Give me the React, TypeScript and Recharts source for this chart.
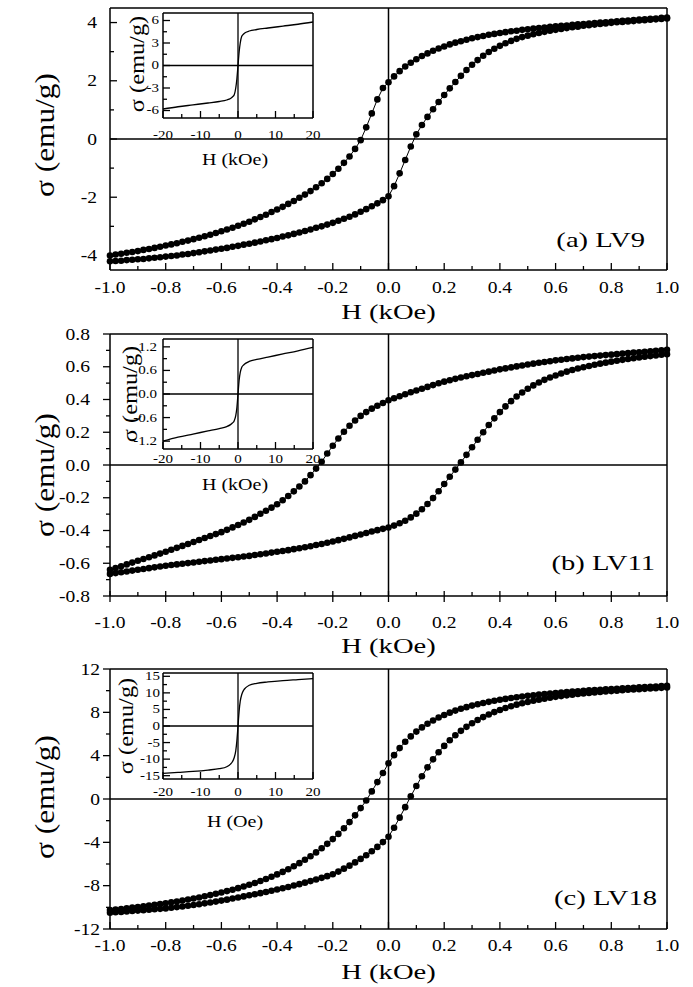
import React from 'react';
import { ComposedChart, LineChart, Line, XAxis, YAxis, ReferenceLine } from 'recharts';

const FONT = '"Liberation Serif", "Times New Roman", serif';

// field values (kOe) shared by the three main loops
const H = [
  -1.0, -0.98, -0.96, -0.94, -0.92, -0.9, -0.88, -0.86, -0.84, -0.82,
  -0.8, -0.78, -0.76, -0.74, -0.72, -0.7, -0.68, -0.66, -0.64, -0.62,
  -0.6, -0.58, -0.56, -0.54, -0.52, -0.5, -0.48, -0.46, -0.44, -0.42,
  -0.4, -0.38, -0.36, -0.34, -0.32, -0.3, -0.28, -0.26, -0.24, -0.22,
  -0.2, -0.18, -0.16, -0.14, -0.12, -0.1, -0.08, -0.06, -0.04, -0.02,
  0.0, 0.02, 0.04, 0.06, 0.08, 0.1, 0.12, 0.14, 0.16, 0.18,
  0.2, 0.22, 0.24, 0.26, 0.28, 0.3, 0.32, 0.34, 0.36, 0.38,
  0.4, 0.42, 0.44, 0.46, 0.48, 0.5, 0.52, 0.54, 0.56, 0.58,
  0.6, 0.62, 0.64, 0.66, 0.68, 0.7, 0.72, 0.74, 0.76, 0.78,
  0.8, 0.82, 0.84, 0.86, 0.88, 0.9, 0.92, 0.94, 0.96, 0.98,
  1.0,
];

// (a) LV9
const upA = [
  -4.0, -3.97, -3.94, -3.91, -3.88, -3.85, -3.81, -3.78, -3.74, -3.7,
  -3.66, -3.62, -3.58, -3.53, -3.49, -3.44, -3.39, -3.34, -3.29, -3.23,
  -3.17, -3.11, -3.05, -2.98, -2.91, -2.84, -2.76, -2.68, -2.6, -2.51,
  -2.42, -2.33, -2.23, -2.13, -2.02, -1.91, -1.79, -1.66, -1.52, -1.37,
  -1.2, -1.02, -0.82, -0.6, -0.34, -0.04, 0.4, 0.88, 1.36, 1.75,
  1.95, 2.15, 2.33, 2.49, 2.62, 2.74, 2.85, 2.94, 3.03, 3.11,
  3.18, 3.25, 3.31, 3.36, 3.41, 3.46, 3.5, 3.54, 3.58, 3.61,
  3.64, 3.67, 3.7, 3.72, 3.75, 3.77, 3.79, 3.81, 3.83, 3.85,
  3.87, 3.89, 3.9, 3.92, 3.94, 3.95, 3.97, 3.98, 4.0, 4.01,
  4.03, 4.04, 4.06, 4.07, 4.09, 4.1, 4.11, 4.13, 4.14, 4.16,
  4.17,
];
const lowA = [
  -4.2, -4.19, -4.18, -4.16, -4.15, -4.13, -4.12, -4.1, -4.08, -4.06,
  -4.04, -4.02, -4.0, -3.97, -3.95, -3.92, -3.89, -3.86, -3.83, -3.8,
  -3.77, -3.74, -3.7, -3.67, -3.63, -3.6, -3.56, -3.52, -3.48, -3.44,
  -3.4, -3.35, -3.31, -3.26, -3.21, -3.16, -3.11, -3.05, -3.0, -2.94,
  -2.88, -2.81, -2.74, -2.67, -2.59, -2.5, -2.41, -2.31, -2.21, -2.1,
  -1.97, -1.62, -1.18, -0.72, -0.26, 0.16, 0.48, 0.76, 1.02, 1.27,
  1.51, 1.74, 1.96, 2.17, 2.37, 2.55, 2.71, 2.86, 2.99, 3.1,
  3.2, 3.29, 3.37, 3.44, 3.5, 3.55, 3.6, 3.64, 3.68, 3.72,
  3.75, 3.78, 3.81, 3.84, 3.86, 3.89, 3.91, 3.93, 3.95, 3.97,
  3.99, 4.01, 4.02, 4.04, 4.05, 4.07, 4.08, 4.1, 4.11, 4.12,
  4.14,
];

// (b) LV11
const upB = [
  -0.64, -0.629, -0.618, -0.607, -0.596, -0.585, -0.574, -0.563, -0.552, -0.541,
  -0.53, -0.518, -0.506, -0.494, -0.482, -0.47, -0.458, -0.446, -0.434, -0.422,
  -0.41, -0.396, -0.381, -0.366, -0.351, -0.335, -0.317, -0.298, -0.279, -0.26,
  -0.24, -0.215, -0.189, -0.161, -0.131, -0.1, -0.062, -0.022, 0.02, 0.07,
  0.118, 0.162, 0.203, 0.24, 0.272, 0.3, 0.323, 0.344, 0.362, 0.379,
  0.395, 0.408, 0.42, 0.432, 0.444, 0.455, 0.466, 0.477, 0.488, 0.499,
  0.509, 0.518, 0.526, 0.534, 0.542, 0.549, 0.556, 0.563, 0.57, 0.577,
  0.584, 0.59, 0.596, 0.602, 0.608, 0.614, 0.619, 0.624, 0.629, 0.634,
  0.639, 0.643, 0.647, 0.651, 0.655, 0.659, 0.662, 0.665, 0.668, 0.671,
  0.674, 0.677, 0.68, 0.683, 0.686, 0.689, 0.692, 0.695, 0.698, 0.701,
  0.704,
];
const lowB = [
  -0.665, -0.66, -0.655, -0.65, -0.645, -0.64, -0.635, -0.63, -0.625, -0.62,
  -0.615, -0.611, -0.607, -0.603, -0.599, -0.595, -0.591, -0.587, -0.583, -0.579,
  -0.575, -0.571, -0.567, -0.563, -0.559, -0.555, -0.55, -0.545, -0.54, -0.535,
  -0.53, -0.525, -0.52, -0.514, -0.508, -0.502, -0.496, -0.489, -0.482, -0.475,
  -0.467, -0.459, -0.451, -0.442, -0.433, -0.424, -0.415, -0.406, -0.398, -0.39,
  -0.382, -0.37, -0.356, -0.34, -0.32, -0.297, -0.27, -0.238, -0.202, -0.16,
  -0.116, -0.072, -0.028, 0.016, 0.062, 0.108, 0.154, 0.2, 0.244, 0.285,
  0.323, 0.358, 0.39, 0.418, 0.443, 0.466, 0.486, 0.504, 0.52, 0.534,
  0.547, 0.559, 0.57, 0.58, 0.589, 0.597, 0.605, 0.612, 0.619, 0.625,
  0.631, 0.637, 0.642, 0.647, 0.652, 0.657, 0.661, 0.665, 0.669, 0.673,
  0.677,
];

// (c) LV18
const upC = [
  -10.25, -10.2, -10.15, -10.09, -10.03, -9.97, -9.91, -9.84, -9.77, -9.7,
  -9.62, -9.54, -9.46, -9.37, -9.28, -9.19, -9.09, -8.98, -8.87, -8.75,
  -8.63, -8.5, -8.37, -8.23, -8.08, -7.92, -7.75, -7.57, -7.38, -7.18,
  -6.96, -6.73, -6.48, -6.21, -5.92, -5.61, -5.28, -4.93, -4.55, -4.14,
  -3.7, -3.22, -2.7, -2.13, -1.51, -0.84, -0.14, 0.7, 1.56, 2.4,
  3.3, 4.05, 4.7, 5.28, 5.78, 6.22, 6.61, 6.95, 7.25, 7.52,
  7.76, 7.97, 8.16, 8.33, 8.48, 8.62, 8.75, 8.86, 8.97, 9.07,
  9.16, 9.24, 9.32, 9.39, 9.46, 9.52, 9.58, 9.64, 9.69, 9.74,
  9.79, 9.83, 9.87, 9.91, 9.95, 9.99, 10.03, 10.06, 10.09, 10.12,
  10.15, 10.18, 10.21, 10.24, 10.27, 10.3, 10.33, 10.36, 10.39, 10.42,
  10.45,
];
const lowC = [
  -10.5, -10.46, -10.42, -10.38, -10.34, -10.3, -10.26, -10.22, -10.18, -10.14,
  -10.1, -10.04, -9.98, -9.92, -9.85, -9.78, -9.71, -9.63, -9.55, -9.47,
  -9.38, -9.29, -9.19, -9.09, -8.99, -8.89, -8.79, -8.69, -8.58, -8.47,
  -8.36, -8.24, -8.12, -7.99, -7.86, -7.72, -7.58, -7.43, -7.28, -7.12,
  -6.95, -6.7, -6.43, -6.15, -5.85, -5.53, -5.19, -4.82, -4.42, -3.98,
  -3.48, -2.65, -1.72, -0.75, 0.25, 1.2, 2.1, 2.92, 3.66, 4.32,
  4.9, 5.42, 5.88, 6.29, 6.66, 6.99, 7.29, 7.56, 7.8, 8.02,
  8.22, 8.4, 8.56, 8.71, 8.84, 8.96, 9.07, 9.17, 9.26, 9.35,
  9.43, 9.5, 9.57, 9.63, 9.69, 9.74, 9.79, 9.84, 9.88, 9.92,
  9.96, 10.0, 10.04, 10.08, 10.11, 10.14, 10.17, 10.2, 10.23, 10.26,
  10.29,
];

// insets: full field sweep, -20..20 kOe
const insetH = [-20, -16, -12, -8, -5, -3, -2, -1.5, -1, -0.6, -0.3, 0, 0.3, 0.6, 1, 1.5, 2, 3, 5, 8, 12, 16, 20];
const insetA = [-5.8, -5.5, -5.25, -5.0, -4.8, -4.6, -4.4, -4.2, -3.9, -3.0, -1.8, 0, 1.8, 3.0, 3.9, 4.2, 4.4, 4.6, 4.8, 5.0, 5.25, 5.5, 5.8];
const insetB = [-1.2, -1.1, -1.02, -0.94, -0.88, -0.83, -0.78, -0.74, -0.68, -0.55, -0.35, 0, 0.35, 0.55, 0.68, 0.74, 0.78, 0.83, 0.88, 0.94, 1.02, 1.1, 1.19];
const insetC = [-14.3, -14.0, -13.7, -13.3, -12.9, -12.3, -11.5, -10.8, -9.5, -7.5, -4.5, 0, 4.5, 7.5, 9.5, 10.8, 11.5, 12.3, 12.9, 13.3, 13.7, 14.0, 14.3];

// ticks
const xTicksMain = [-1.0, -0.9, -0.8, -0.7, -0.6, -0.5, -0.4, -0.3, -0.2, -0.1, 0, 0.1, 0.2, 0.3, 0.4, 0.5, 0.6, 0.7, 0.8, 0.9, 1.0];
const xMajorMain = [-1.0, -0.8, -0.6, -0.4, -0.2, 0, 0.2, 0.4, 0.6, 0.8, 1.0];
const yTicksA = [-4, -3, -2, -1, 0, 1, 2, 3, 4];
const yMajorA = [-4, -2, 0, 2, 4];
const yTicksB = [-0.8, -0.7, -0.6, -0.5, -0.4, -0.3, -0.2, -0.1, 0, 0.1, 0.2, 0.3, 0.4, 0.5, 0.6, 0.7, 0.8];
const yMajorB = [-0.8, -0.6, -0.4, -0.2, 0, 0.2, 0.4, 0.6, 0.8];
const yTicksC = [-12, -10, -8, -6, -4, -2, 0, 2, 4, 6, 8, 10, 12];
const yMajorC = [-12, -8, -4, 0, 4, 8, 12];

const insetXTicks = [-20, -15, -10, -5, 0, 5, 10, 15, 20];
const insetXMajor = [-20, -10, 0, 10, 20];
const insetYTicksA = [-6, -4.5, -3, -1.5, 0, 1.5, 3, 4.5, 6];
const insetYMajorA = [-6, -3, 0, 3, 6];
const insetYTicksB = [-1.2, -0.9, -0.6, -0.3, 0, 0.3, 0.6, 0.9, 1.2];
const insetYMajorB = [-1.2, -0.6, 0, 0.6, 1.2];
const insetYTicksC = [-15, -12.5, -10, -7.5, -5, -2.5, 0, 2.5, 5, 7.5, 10, 12.5, 15];
const insetYMajorC = [-15, -10, -5, 0, 5, 10, 15];

const AXIS = { stroke: '#000', strokeWidth: 1.5 };

type TickCfg = {
  inMaj: number; outMaj: number; inMin: number; outMin: number;
  gap: number; size: number; sx: number; digits: number;
};

const isIn = (list: number[], v: number) => list.some((m) => Math.abs(m - v) < 1e-6);

const xTick = (major: number[], c: TickCfg) => (props: any) => {
  const { x, y, payload } = props;
  const v = payload.value;
  const big = isIn(major, v);
  const tin = big ? c.inMaj : c.inMin;
  const tout = big ? c.outMaj : c.outMin;
  return (
    <g>
      <line x1={x} x2={x} y1={y - tin} y2={y + tout} stroke="#000" strokeWidth={1.3} />
      {big && (
        <text
          transform={`translate(${x},${y + c.gap}) scale(${c.sx},1)`}
          textAnchor="middle"
          dominantBaseline="central"
          fontSize={c.size}
          fontFamily={FONT}
          fill="#000"
        >
          {v.toFixed(c.digits)}
        </text>
      )}
    </g>
  );
};

const yTick = (major: number[], c: TickCfg) => (props: any) => {
  const { x, y, payload } = props;
  const v = payload.value;
  const big = isIn(major, v);
  const tin = big ? c.inMaj : c.inMin;
  const tout = big ? c.outMaj : c.outMin;
  return (
    <g>
      <line x1={x - tout} x2={x + tin} y1={y} y2={y} stroke="#000" strokeWidth={1.3} />
      {big && (
        <text
          transform={`translate(${x - c.gap},${y}) scale(${c.sx},1)`}
          textAnchor="end"
          dominantBaseline="central"
          fontSize={c.size}
          fontFamily={FONT}
          fill="#000"
        >
          {v.toFixed(c.digits)}
        </text>
      )}
    </g>
  );
};

const MAIN_LEFT = 110;
const MAIN_RIGHT = 667;
const MAIN_TOP_PAD = 16;

function MainPanel(p: {
  top: number; bottom: number; up: number[]; low: number[];
  yDomain: [number, number]; yTicks: number[]; yMajor: number[];
  xCfg: TickCfg; yCfg: TickCfg;
}) {
  const data = H.map((h, i) => ({ h, up: p.up[i], low: p.low[i] }));
  const plotH = p.bottom - p.top;
  const chartH = plotH + MAIN_TOP_PAD + 60;
  const dot = { r: 3.3, fill: '#000', stroke: 'none' };
  return (
    <div style={{ position: 'absolute', left: 0, top: p.top - MAIN_TOP_PAD, width: 693, height: chartH }}>
      <ComposedChart width={693} height={chartH} data={data} margin={{ top: MAIN_TOP_PAD, right: 693 - MAIN_RIGHT, bottom: 0, left: 0 }}>
        <XAxis
          dataKey="h" type="number" domain={[-1, 1]} ticks={xTicksMain} interval={0}
          tickSize={0} tickMargin={0} tickLine={false} axisLine={AXIS}
          tick={xTick(xMajorMain, p.xCfg)} height={60}
        />
        <YAxis
          type="number" domain={p.yDomain} ticks={p.yTicks} interval={0}
          tickSize={0} tickMargin={0} tickLine={false} axisLine={AXIS}
          tick={yTick(p.yMajor, p.yCfg)} width={MAIN_LEFT}
        />
        <ReferenceLine x={0} stroke="#000" strokeWidth={1.5} />
        <ReferenceLine y={0} stroke="#000" strokeWidth={1.5} />
        <ReferenceLine x={1} stroke="#000" strokeWidth={1.5} />
        <ReferenceLine y={p.yDomain[1]} stroke="#000" strokeWidth={1.5} />
        <Line dataKey="up" type="linear" stroke="#000" strokeWidth={1} dot={dot} activeDot={false} isAnimationActive={false} />
        <Line dataKey="low" type="linear" stroke="#000" strokeWidth={1} dot={dot} activeDot={false} isAnimationActive={false} />
      </ComposedChart>
    </div>
  );
}

const INSET_LEFT = 163;
const INSET_W = 150;

function Inset(p: {
  top: number; bottom: number; vals: number[];
  yDomain: [number, number]; yTicks: number[]; yMajor: number[];
  xCfg: TickCfg; yCfg: TickCfg;
}) {
  const data = insetH.map((h, i) => ({ h, s: p.vals[i] }));
  const plotH = p.bottom - p.top;
  const L = 60;
  const R = 22;
  const T = 10;
  const chartW = L + INSET_W + R;
  const chartH = plotH + T + 40;
  return (
    <div style={{ position: 'absolute', left: INSET_LEFT - L, top: p.top - T, width: chartW, height: chartH }}>
      <LineChart width={chartW} height={chartH} data={data} margin={{ top: T, right: R, bottom: 0, left: 0 }}>
        <XAxis
          dataKey="h" type="number" domain={[-20, 20]} ticks={insetXTicks} interval={0}
          tickSize={0} tickMargin={0} tickLine={false} axisLine={AXIS}
          tick={xTick(insetXMajor, p.xCfg)} height={40}
        />
        <YAxis
          type="number" domain={p.yDomain} ticks={p.yTicks} interval={0}
          tickSize={0} tickMargin={0} tickLine={false} axisLine={AXIS}
          tick={yTick(p.yMajor, p.yCfg)} width={L}
        />
        <ReferenceLine x={0} stroke="#000" strokeWidth={1.3} />
        <ReferenceLine y={0} stroke="#000" strokeWidth={1.3} />
        <ReferenceLine x={20} stroke="#000" strokeWidth={1.5} />
        <ReferenceLine y={p.yDomain[1]} stroke="#000" strokeWidth={1.5} />
        <Line dataKey="s" type="monotone" stroke="#000" strokeWidth={1.3} dot={false} activeDot={false} isAnimationActive={false} />
      </LineChart>
    </div>
  );
}

const mainX = (gap: number, inMaj: number, outMaj: number): TickCfg => ({
  inMaj, outMaj, inMin: 4, outMin: 0, gap, size: 17, sx: 1.15, digits: 1,
});
const mainY = (gap: number, inMaj: number, outMaj: number, inMin: number, outMin: number, digits: number): TickCfg => ({
  inMaj, outMaj, inMin, outMin, gap, size: 17, sx: 1.15, digits,
});
const insX = (gap: number): TickCfg => ({ inMaj: 7, outMaj: 0, inMin: 4, outMin: 0, gap, size: 12, sx: 1.25, digits: 0 });
const insY = (gap: number, digits: number): TickCfg => ({ inMaj: 7, outMaj: 0, inMin: 4, outMin: 0, gap, size: 12, sx: 1.25, digits });

function Titles() {
  const t = (x: number, y: number, s: string, size: number, sx: number, anchor = 'middle', rot = false) => (
    <text
      transform={`translate(${x},${y})${rot ? ' rotate(-90)' : ''} scale(${sx},1)`}
      textAnchor={anchor}
      dominantBaseline="central"
      fontSize={size}
      fontFamily={FONT}
      fill="#000"
    >
      {s}
    </text>
  );
  return (
    <svg width={693} height={987} style={{ position: 'absolute', left: 0, top: 0, pointerEvents: 'none' }}>
      {t(388.5, 312, 'H (kOe)', 22, 1.3)}
      {t(388.5, 646, 'H (kOe)', 22, 1.3)}
      {t(388.5, 972, 'H (kOe)', 22, 1.3)}
      {t(45, 135, 'σ (emu/g)', 27, 1.16, 'middle', true)}
      {t(45, 475, 'σ (emu/g)', 27, 1.16, 'middle', true)}
      {t(45, 797, 'σ (emu/g)', 27, 1.16, 'middle', true)}
      {t(645, 240, '(a) LV9', 22, 1.3, 'end')}
      {t(655, 563, '(b) LV11', 22, 1.3, 'end')}
      {t(657, 898, '(c) LV18', 22, 1.3, 'end')}
      {t(235, 160, 'H (kOe)', 16, 1.25)}
      {t(235, 485, 'H (kOe)', 16, 1.25)}
      {t(235, 822, 'H (Oe)', 16, 1.25)}
      {t(137, 64, 'σ (emu/g)', 20, 1.22, 'middle', true)}
      {t(130, 394, 'σ (emu/g)', 20, 1.22, 'middle', true)}
      {t(126, 726, 'σ (emu/g)', 20, 1.22, 'middle', true)}
    </svg>
  );
}

export default function App() {
  return (
    <div style={{ position: 'absolute', left: 0, top: 0, width: 693, height: 987, background: '#fff' }}>
      <MainPanel
        top={8} bottom={270} up={upA} low={lowA} yDomain={[-4.5, 4.5]} yTicks={yTicksA} yMajor={yMajorA}
        xCfg={mainX(17, 7, 0)} yCfg={mainY(13, 7, 0, 4, 0, 0)}
      />
      <MainPanel
        top={334} bottom={596} up={upB} low={lowB} yDomain={[-0.8, 0.8]} yTicks={yTicksB} yMajor={yMajorB}
        xCfg={mainX(26, 5, 6)} yCfg={mainY(20, 0, 7, 0, 4, 1)}
      />
      <MainPanel
        top={669} bottom={929} up={upC} low={lowC} yDomain={[-12, 12]} yTicks={yTicksC} yMajor={yMajorC}
        xCfg={mainX(16, 7, 0)} yCfg={mainY(10, 0, 7, 0, 4, 0)}
      />
      <Inset
        top={13} bottom={118} vals={insetA} yDomain={[-7, 7]} yTicks={insetYTicksA} yMajor={insetYMajorA}
        xCfg={insX(17)} yCfg={insY(4, 0)}
      />
      <Inset
        top={339} bottom={449} vals={insetB} yDomain={[-1.4, 1.4]} yTicks={insetYTicksB} yMajor={insetYMajorB}
        xCfg={insX(10)} yCfg={insY(6, 1)}
      />
      <Inset
        top={673} bottom={779} vals={insetC} yDomain={[-16, 16]} yTicks={insetYTicksC} yMajor={insetYMajorC}
        xCfg={insX(13)} yCfg={insY(3, 0)}
      />
      <Titles />
    </div>
  );
}
